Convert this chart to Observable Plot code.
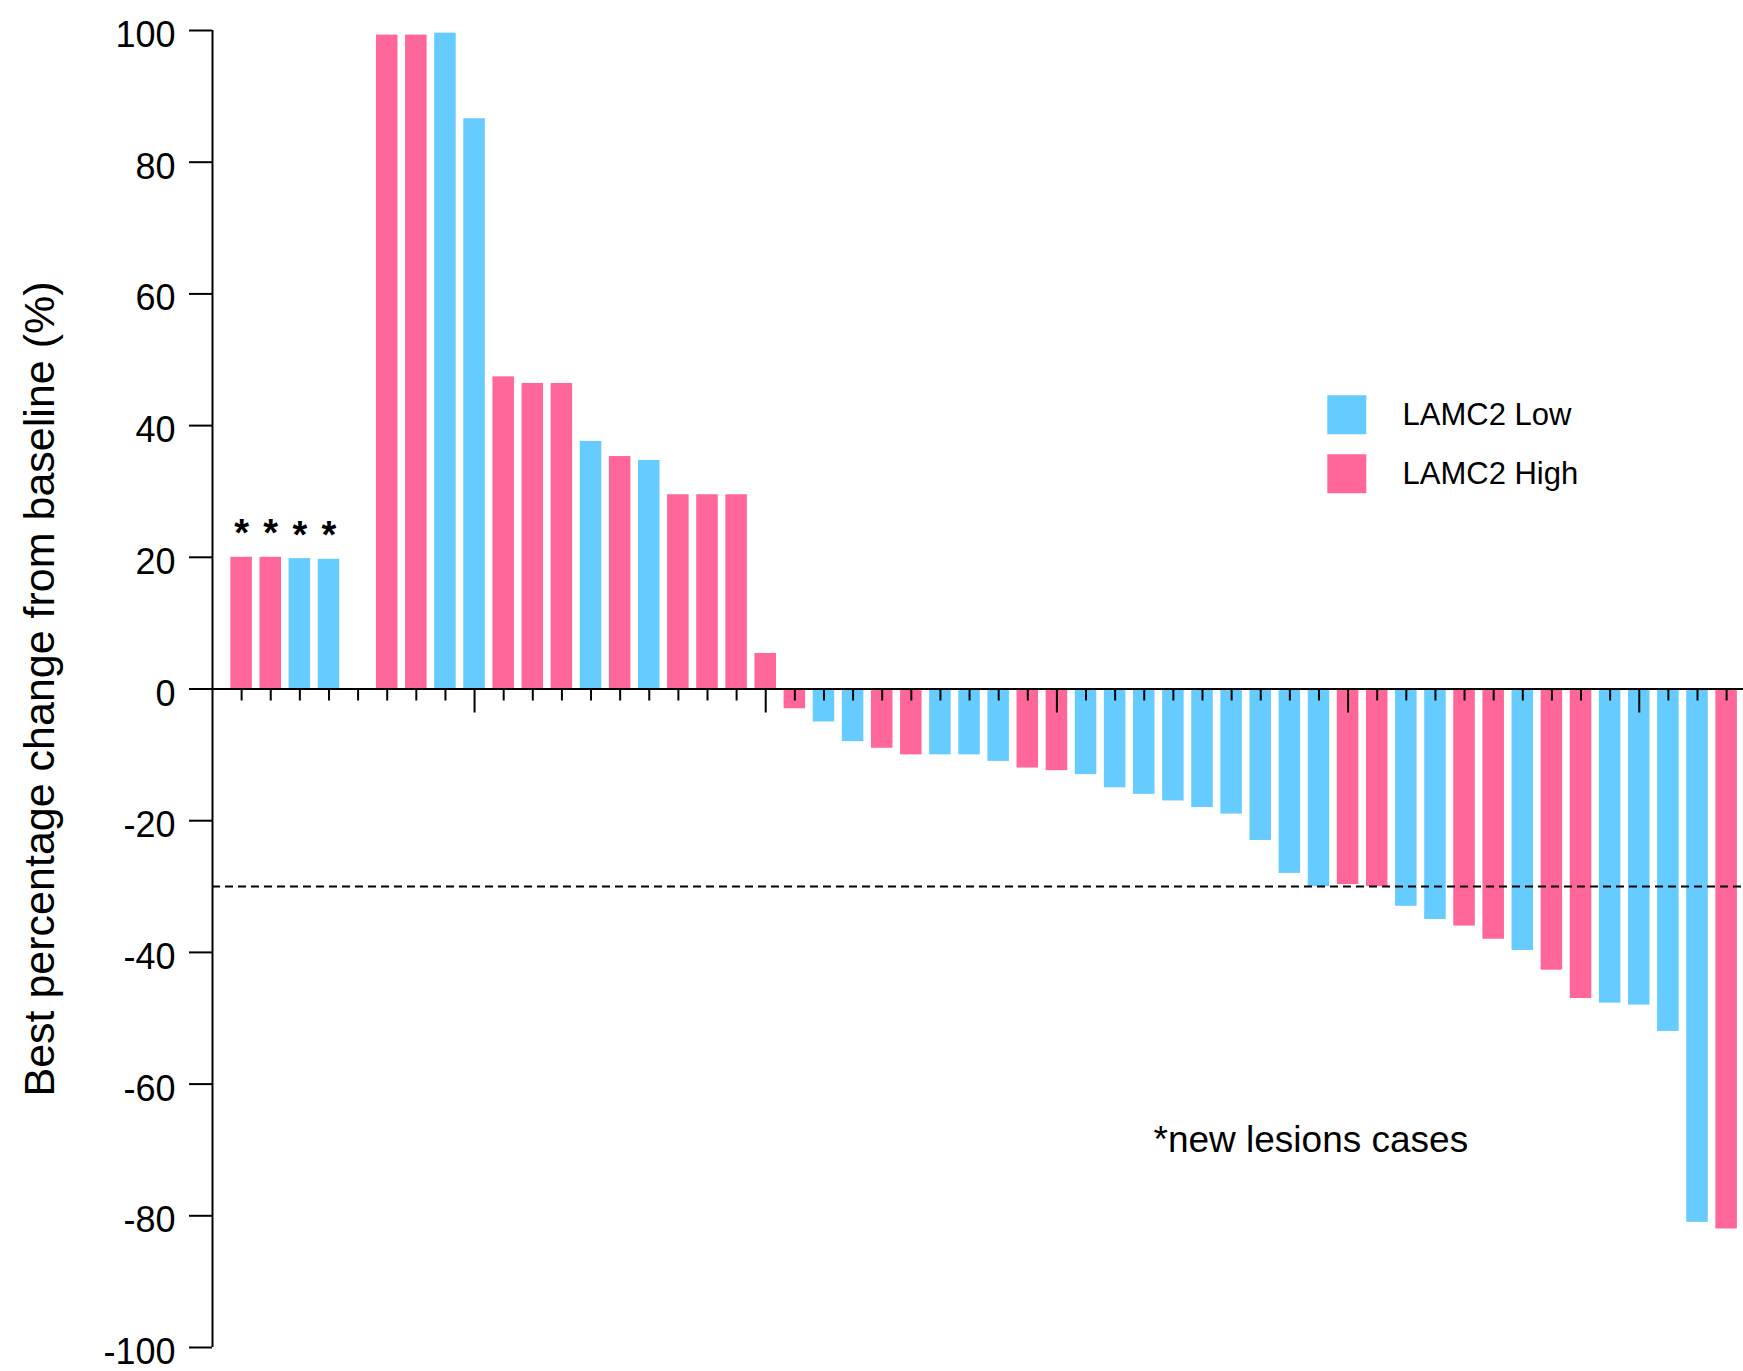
<!DOCTYPE html>
<html><head><meta charset="utf-8">
<script src="https://cdn.jsdelivr.net/npm/d3@7"></script>
<script src="https://cdn.jsdelivr.net/npm/@observablehq/plot@0.6"></script>
<style>html,body{margin:0;padding:0;background:#fff}#chart svg{display:block}</style>
</head><body><div id="chart"></div>
<script>
// ---- data ----
const slots = d3.range(1, 53); // patient positions along the x axis
const values = [20, 20, 19.8, 19.7, null, 99.3, 99.3, 99.6, 86.6, 47.4,
  46.4, 46.4, 37.6, 35.3, 34.7, 29.5, 29.5, 29.5, 5.4, -3,
  -5, -8, -9, -10, -10, -10, -11, -12, -12.4, -13,
  -15, -16, -17, -18, -19, -23, -28, -30, -29.7, -30,
  -33, -35, -36, -38, -39.7, -42.7, -47, -47.7, -48, -52,
  -81, -82];
const groupCodes = ["H","H","L","L",null,"H","H","L","L","H",
  "H","H","L","H","L","H","H","H","H","H",
  "L","L","H","H","L","L","L","H","H","L",
  "L","L","L","L","L","L","L","L","H","H",
  "L","L","H","H","L","H","H","L","L","L",
  "L","H"];
const groupNames = {L: "LAMC2 Low", H: "LAMC2 High"};
const legendLabels = ["LAMC2 Low", "LAMC2 High"];
const legendColors = ["#66CCFF", "#FF6699"];
const newLesionSlots = [1, 2, 3, 4];
const yTicks = [-100, -80, -60, -40, -20, 0, 20, 40, 60, 80, 100];
const majorXTicks = [9, 19, 29, 39, 49];
const responseThreshold = [-30];
const yTitle = "Best percentage change from baseline (%)";
const note = "*new lesions cases";

const bars = slots.map((s, i) => ({slot: s, value: values[i], group: groupCodes[i] ? groupNames[groupCodes[i]] : null}))
  .filter(d => d.value != null);
const minorXTicks = slots.filter(s => !majorXTicks.includes(s));

const W = 1743, H = 1371, ML = 212, MT = 30, MB = 24;
const font = "'Liberation Sans', Arial, Helvetica, sans-serif";

const legendMarks = legendLabels.flatMap((lab, i) => [
  Plot.dot([lab], {frameAnchor: "top-left", dx: 1134.3, dy: 384.3 + i * 59, symbol: "square", r: 22, fill: legendColors[i]}),
  Plot.text([lab], {frameAnchor: "top-left", dx: 1190, dy: 394 + i * 59, textAnchor: "start", lineAnchor: "bottom", fontSize: 31, text: d => d})
]);

const chart = Plot.plot({
  width: W, height: H,
  marginLeft: ML, marginRight: 0, marginTop: MT, marginBottom: MB,
  style: {fontFamily: font, background: "white", color: "black"},
  x: {type: "linear", domain: [0, 52.58], axis: null},
  y: {domain: [-100, 100], axis: null},
  color: {domain: legendLabels, range: legendColors},
  marks: [
    Plot.rectY(bars, {x1: d => d.slot - 0.5, x2: d => d.slot + 0.5, y1: 0, y2: "value", fill: "group", insetLeft: 3.8, insetRight: 3.8}),
    Plot.ruleY(responseThreshold, {stroke: "black", strokeWidth: 2, strokeDasharray: "8,5"}),
    Plot.ruleY([0], {stroke: "black", strokeWidth: 2}),
    Plot.ruleX([0], {y1: -100, y2: 100, stroke: "black", strokeWidth: 2}),
    Plot.ruleY(yTicks, {x1: 0, x2: 0, insetLeft: -23, stroke: "black", strokeWidth: 2}),
    Plot.text(yTicks, {y: d => d, frameAnchor: "left", text: d => String(d), textAnchor: "end", dx: -37, dy: 5, fontSize: 36}),
    Plot.ruleX(minorXTicks, {x: d => d, y1: 0, y2: 0, insetBottom: -12, stroke: "black", strokeWidth: 2}),
    Plot.ruleX(majorXTicks, {x: d => d, y1: 0, y2: 0, insetBottom: -24, stroke: "black", strokeWidth: 2}),
    Plot.text(bars.filter(d => newLesionSlots.includes(d.slot)), {x: "slot", y: "value", text: () => "*", lineAnchor: "bottom", dy: -11, fontSize: 38, fontWeight: "bold"}),
    Plot.text([yTitle], {frameAnchor: "left", rotate: -90, textAnchor: "middle", lineAnchor: "bottom", dx: -159, fontSize: 43, text: d => d}),
    ...legendMarks,
    Plot.text([note], {frameAnchor: "top-left", dx: 941, dy: 1121, textAnchor: "start", lineAnchor: "bottom", fontSize: 37, text: d => d})
  ]
});
document.getElementById("chart").appendChild(chart);
</script></body></html>
